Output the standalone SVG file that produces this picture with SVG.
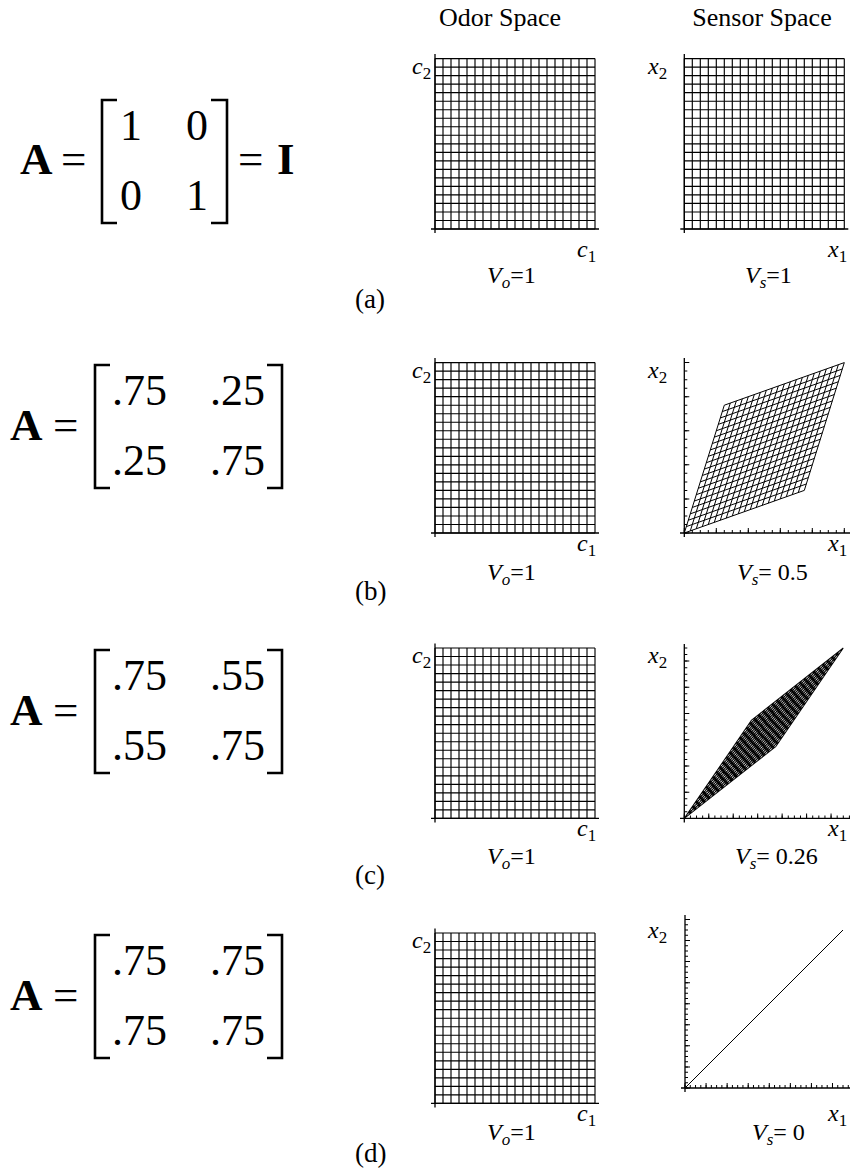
<svg xmlns="http://www.w3.org/2000/svg" xmlns:xlink="http://www.w3.org/1999/xlink" width="853" height="1168" viewBox="0 0 853 1168">
<style>
text{font-family:"Liberation Serif","Times New Roman",serif;fill:#000}
.title{font-size:26px;text-anchor:middle}
.mat{font-size:44px}
.big{font-size:45px}
.bold{font-weight:bold}
.lab{font-size:24px}
.pl{font-size:27px}
.it{font-style:italic}
.grid{fill:none;stroke:#000;stroke-width:1.15}
.axis{fill:none;stroke:#000;stroke-width:1.3}
.br{fill:none;stroke:#000;stroke-width:2.6}
.tk{fill:none;stroke:#000}
</style>
<defs>
<path id="grid" class="grid" d="M0 0V170.4M8 0V170.4M16 0V170.4M24 0V170.4M32 0V170.4M40 0V170.4M48 0V170.4M56 0V170.4M64 0V170.4M72 0V170.4M80 0V170.4M88 0V170.4M96 0V170.4M104 0V170.4M112 0V170.4M120 0V170.4M128 0V170.4M136 0V170.4M144 0V170.4M152 0V170.4M160 0V170.4M0 0H160M0 8.52H160M0 17.04H160M0 25.56H160M0 34.08H160M0 42.6H160M0 51.12H160M0 59.64H160M0 68.16H160M0 76.68H160M0 85.2H160M0 93.72H160M0 102.24H160M0 110.76H160M0 119.28H160M0 127.8H160M0 136.32H160M0 144.84H160M0 153.36H160M0 161.88H160M0 170.4H160"/>
<path id="axes" class="axis" d="M0 -4.5V174.4M-4 170.4H164"/>
<path id="ug" fill="none" stroke="#000" stroke-width="1" vector-effect="non-scaling-stroke" d="M0 0V1M.05 0V1M.1 0V1M.15 0V1M.2 0V1M.25 0V1M.3 0V1M.35 0V1M.4 0V1M.45 0V1M.5 0V1M.55 0V1M.6 0V1M.65 0V1M.7 0V1M.75 0V1M.8 0V1M.85 0V1M.9 0V1M.95 0V1M1 0V1M0 0H1M0 .05H1M0 .1H1M0 .15H1M0 .2H1M0 .25H1M0 .3H1M0 .35H1M0 .4H1M0 .45H1M0 .5H1M0 .55H1M0 .6H1M0 .65H1M0 .7H1M0 .75H1M0 .8H1M0 .85H1M0 .9H1M0 .95H1M0 1H1"/>
</defs>

<g id="titles">
<text class="title" x="500" y="26">Odor Space</text>
<text class="title" x="762" y="26">Sensor Space</text>
</g>

<!-- Row (a) -->
<g id="matrix-a">
<text class="big bold" x="20" y="174">A</text>
<text class="big" x="61" y="174">=</text>
<path class="br" d="M117 100H102V223H117M211 100H227V223H211"/>
<text class="mat" x="131" y="140" text-anchor="middle">1</text>
<text class="mat" x="197" y="140" text-anchor="middle">0</text>
<text class="mat" x="131" y="210" text-anchor="middle">0</text>
<text class="mat" x="197" y="210" text-anchor="middle">1</text>
<text class="big" x="238" y="174">=</text>
<text class="big bold" x="277" y="174">I</text>
</g>
<g id="odor-a">
<use href="#grid" xlink:href="#grid" transform="translate(435,58.6)"/>
<use href="#axes" xlink:href="#axes" transform="translate(435,58.6)"/>
<text class="lab" x="412" y="74"><tspan class="it">c</tspan><tspan font-size="17" dy="5">2</tspan></text>
<text class="lab" x="577" y="257"><tspan class="it">c</tspan><tspan font-size="17" dy="5">1</tspan></text>
<text class="lab" x="487" y="283"><tspan class="it">V</tspan><tspan class="it" font-size="17" dy="5">o</tspan><tspan dy="-5">=1</tspan></text>
</g>
<g id="sensor-a">
<use href="#grid" xlink:href="#grid" transform="translate(684.3,58.6)"/>
<use href="#axes" xlink:href="#axes" transform="translate(684.3,58.6)"/>
<text class="lab" x="648" y="74"><tspan class="it">x</tspan><tspan font-size="17" dy="5">2</tspan></text>
<text class="lab" x="828" y="257"><tspan class="it">x</tspan><tspan font-size="17" dy="5">1</tspan></text>
<text class="lab" x="745" y="283"><tspan class="it">V</tspan><tspan class="it" font-size="17" dy="5">s</tspan><tspan dy="-5">=1</tspan></text>
</g>
<text id="label-a" class="pl" x="355" y="308">(a)</text>

<!-- Row (b) -->
<g id="matrix-b">
<text class="big bold" x="10" y="440">A</text>
<text class="big" x="53" y="440">=</text>
<path class="br" d="M110 365H95V488H110M267 365H282V488H267"/>
<text class="mat" x="112" y="405">.75</text>
<text class="mat" x="210" y="405">.25</text>
<text class="mat" x="112" y="475">.25</text>
<text class="mat" x="210" y="475">.75</text>
</g>
<g id="odor-b">
<use href="#grid" xlink:href="#grid" transform="translate(435,362.6)"/>
<use href="#axes" xlink:href="#axes" transform="translate(435,362.6)"/>
<text class="lab" x="412" y="378"><tspan class="it">c</tspan><tspan font-size="17" dy="5">2</tspan></text>
<text class="lab" x="577" y="551"><tspan class="it">c</tspan><tspan font-size="17" dy="5">1</tspan></text>
<text class="lab" x="487" y="580"><tspan class="it">V</tspan><tspan class="it" font-size="17" dy="5">o</tspan><tspan dy="-5">=1</tspan></text>
</g>
<g id="sensor-b">
<use href="#ug" xlink:href="#ug" transform="matrix(120,-42.6,40,-127.8,684.3,533)"/>
<path class="axis" d="M684.3 358V537M680 533H850"/>
<line class="tk" x1="683.8" y1="531.5" x2="850" y2="531.5" stroke-width="3" stroke-dasharray="1 7"/>
<line class="tk" x1="683.8" y1="530.5" x2="850" y2="530.5" stroke-width="5" stroke-dasharray="1 31"/>
<line class="tk" x1="685.8" y1="533.5" x2="685.8" y2="358" stroke-width="3" stroke-dasharray="1 7.52"/>
<line class="tk" x1="686.8" y1="533.5" x2="686.8" y2="358" stroke-width="5" stroke-dasharray="1 33.08"/>
<text class="lab" x="648" y="378"><tspan class="it">x</tspan><tspan font-size="17" dy="5">2</tspan></text>
<text class="lab" x="828" y="551"><tspan class="it">x</tspan><tspan font-size="17" dy="5">1</tspan></text>
<text class="lab" x="737" y="580"><tspan class="it">V</tspan><tspan class="it" font-size="17" dy="5">s</tspan><tspan dy="-5">= 0.5</tspan></text>
</g>
<text id="label-b" class="pl" x="355" y="600">(b)</text>

<!-- Row (c) -->
<g id="matrix-c">
<text class="big bold" x="10" y="725">A</text>
<text class="big" x="53" y="725">=</text>
<path class="br" d="M110 650H95V773H110M267 650H282V773H267"/>
<text class="mat" x="112" y="690">.75</text>
<text class="mat" x="210" y="690">.55</text>
<text class="mat" x="112" y="760">.55</text>
<text class="mat" x="210" y="760">.75</text>
</g>
<g id="odor-c">
<use href="#grid" xlink:href="#grid" transform="translate(435,648)"/>
<use href="#axes" xlink:href="#axes" transform="translate(435,648)"/>
<text class="lab" x="412" y="663"><tspan class="it">c</tspan><tspan font-size="17" dy="5">2</tspan></text>
<text class="lab" x="577" y="836"><tspan class="it">c</tspan><tspan font-size="17" dy="5">1</tspan></text>
<text class="lab" x="487" y="864"><tspan class="it">V</tspan><tspan class="it" font-size="17" dy="5">o</tspan><tspan dy="-5">=1</tspan></text>
</g>
<g id="sensor-c">
<use href="#ug" xlink:href="#ug" transform="matrix(91.73,-72.09,67.27,-98.31,684.3,818.4)"/>
<path class="axis" d="M684.3 644V822.4M680 818.4H850"/>
<line class="tk" x1="683.8" y1="816.9" x2="850" y2="816.9" stroke-width="3" stroke-dasharray="1 5.115"/>
<line class="tk" x1="683.8" y1="815.9" x2="850" y2="815.9" stroke-width="5" stroke-dasharray="1 23.46"/>
<line class="tk" x1="685.8" y1="818.9" x2="685.8" y2="644" stroke-width="3" stroke-dasharray="1 5.554"/>
<line class="tk" x1="686.8" y1="818.9" x2="686.8" y2="644" stroke-width="5" stroke-dasharray="1 25.22"/>
<text class="lab" x="648" y="663"><tspan class="it">x</tspan><tspan font-size="17" dy="5">2</tspan></text>
<text class="lab" x="828" y="836"><tspan class="it">x</tspan><tspan font-size="17" dy="5">1</tspan></text>
<text class="lab" x="735" y="864"><tspan class="it">V</tspan><tspan class="it" font-size="17" dy="5">s</tspan><tspan dy="-5">= 0.26</tspan></text>
</g>
<text id="label-c" class="pl" x="355" y="884">(c)</text>

<!-- Row (d) -->
<g id="matrix-d">
<text class="big bold" x="10" y="1010">A</text>
<text class="big" x="53" y="1010">=</text>
<path class="br" d="M110 935H95V1058H110M267 935H282V1058H267"/>
<text class="mat" x="112" y="975">.75</text>
<text class="mat" x="210" y="975">.75</text>
<text class="mat" x="112" y="1045">.75</text>
<text class="mat" x="210" y="1045">.75</text>
</g>
<g id="odor-d">
<use href="#grid" xlink:href="#grid" transform="translate(435,933)"/>
<use href="#axes" xlink:href="#axes" transform="translate(435,933)"/>
<text class="lab" x="412" y="948"><tspan class="it">c</tspan><tspan font-size="17" dy="5">2</tspan></text>
<text class="lab" x="577" y="1121"><tspan class="it">c</tspan><tspan font-size="17" dy="5">1</tspan></text>
<text class="lab" x="487" y="1140"><tspan class="it">V</tspan><tspan class="it" font-size="17" dy="5">o</tspan><tspan dy="-5">=1</tspan></text>
</g>
<g id="sensor-d">
<path class="axis" d="M685 915V1092M681 1088H850"/>
<line class="tk" x1="684.5" y1="1086.5" x2="850" y2="1086.5" stroke-width="3" stroke-dasharray="1 4.267"/>
<line class="tk" x1="684.5" y1="1085.5" x2="850" y2="1085.5" stroke-width="5" stroke-dasharray="1 20.07"/>
<line class="tk" x1="686.5" y1="1088.5" x2="686.5" y2="915" stroke-width="3" stroke-dasharray="1 4.267"/>
<line class="tk" x1="687.5" y1="1088.5" x2="687.5" y2="915" stroke-width="5" stroke-dasharray="1 20.07"/>
<line x1="685" y1="1088" x2="843" y2="930" stroke="#000" stroke-width="1"/>
<text class="lab" x="648" y="938"><tspan class="it">x</tspan><tspan font-size="17" dy="5">2</tspan></text>
<text class="lab" x="828" y="1121"><tspan class="it">x</tspan><tspan font-size="17" dy="5">1</tspan></text>
<text class="lab" x="752" y="1140"><tspan class="it">V</tspan><tspan class="it" font-size="17" dy="5">s</tspan><tspan dy="-5">= 0</tspan></text>
</g>
<text id="label-d" class="pl" x="355" y="1162">(d)</text>
</svg>
